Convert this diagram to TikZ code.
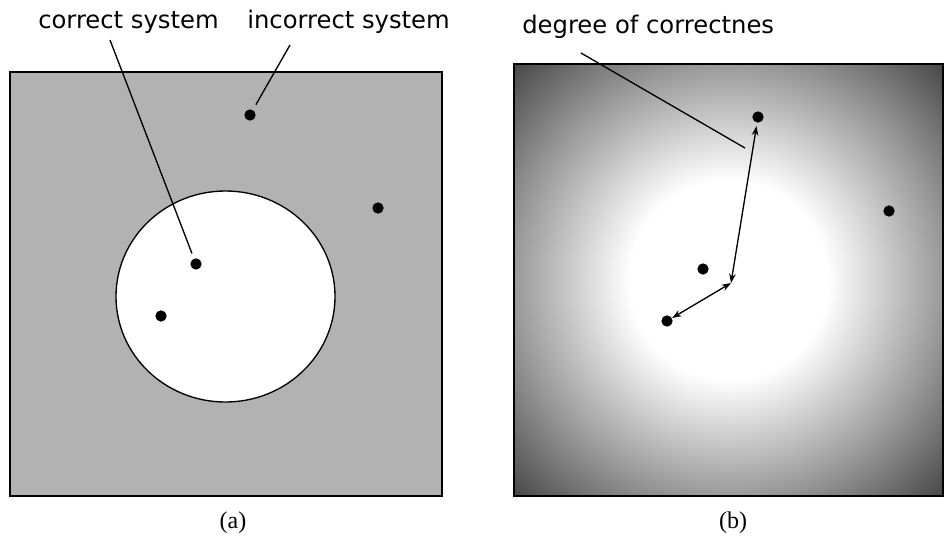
\documentclass[tikz,border=0pt]{standalone}
\usepackage{fontspec}
\setmainfont{Liberation Serif}
\newfontfamily\labelfont{DejaVu Sans}
\usepackage{tikz}
\usetikzlibrary{arrows.meta}
\pgfdeclareradialshading{correctness}{\pgfpoint{0bp}{0bp}}{color(0bp)=(white); color(11.5bp)=(white); color(25bp)=(black!40); color(35.4bp)=(black!72); color(50bp)=(black!72)}

\begin{document}
\begin{tikzpicture}[x=0.75pt, y=-0.75pt,
    dot/.style={circle, fill=black, inner sep=0pt, minimum size=8.5pt},
    callout/.style={font=\labelfont\fontsize{18.2}{20}\selectfont, anchor=base west, inner sep=0pt},
    caption/.style={font=\fontsize{18}{20}\selectfont},
    pointer/.style={line width=1pt},
    span/.style={line width=1pt, {Stealth[length=7pt,width=5pt]}-{Stealth[length=7pt,width=5pt]}}]
    \useasboundingbox (0,0) rectangle (944,536);

    % (a) correct vs incorrect
    \draw[line width=1pt, fill=black!30] (10,72) rectangle (442,496);
    \draw[line width=1pt, fill=white] (225.5,296.5) ellipse [x radius=109.5, y radius=105.5];
    \node[dot] at (250,115) (inc1) {};
    \node[dot] at (378,208) (inc2) {};
    \node[dot] at (196,264) (cor1) {};
    \node[dot] at (161,316) (cor2) {};

    % labels
    \node[callout] at (38,28) (corlabel) {correct system};
    \node[callout] at (247,28) (inclabel) {incorrect system};
    \coordinate (corfoot) at (110,40);
    \coordinate (incfoot) at (290,45);
    \draw[pointer, shorten >=4pt] (corfoot) -- (cor1);
    \draw[pointer, shorten >=4.5pt] (incfoot) -- (inc1);

    % (b) degree of correctness
    \shade[shading=correctness] (514,64) rectangle (943,496);
    \draw[line width=1pt] (514,64) rectangle (943,496);
    \node[dot] at (758,117) (deg1) {};
    \node[dot] at (889,211) (deg2) {};
    \node[dot] at (703,269) (deg3) {};
    \node[dot] at (667,321) (deg4) {};
    \coordinate (joint) at (731,283);
    \draw[span, shorten >=2.5pt] (joint) -- (deg1);
    \draw[span] (joint) -- (deg4);

    \node[callout] at (522,33) (deglabel) {degree of correctnes};
    \coordinate (degfoot) at (581,53);
    \coordinate (degtip) at (745,148);
    \draw[pointer] (degfoot) -- (degtip);

    % captions
    \node[caption] at (233,523) (capa) {(a)};
    \node[caption] at (733,523) (capb) {(b)};
\end{tikzpicture}
\end{document}
